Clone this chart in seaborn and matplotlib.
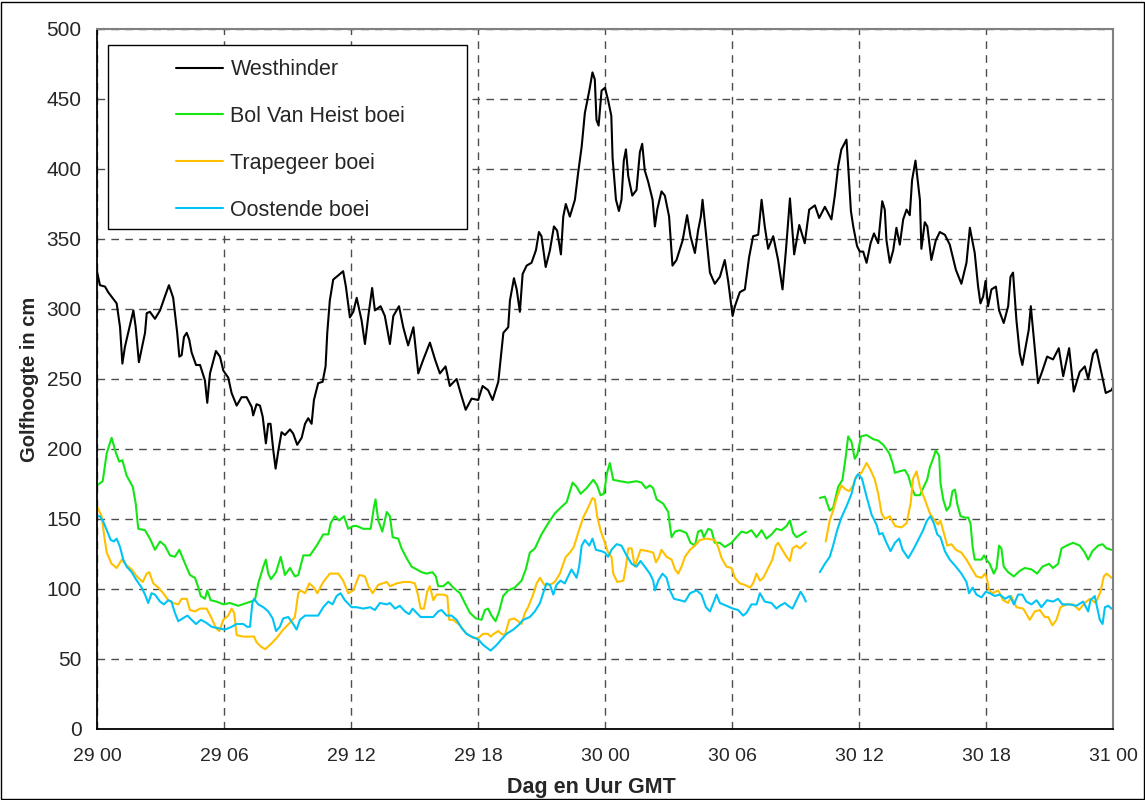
import pandas as pd
import matplotlib.pyplot as plt
from matplotlib.lines import Line2D
from matplotlib.patches import Rectangle
import seaborn as sns

# uren na 29 00 GMT en golfhoogte in cm
wh_uur = [0.0, 0.14, 0.38, 0.53, 0.93, 1.09, 1.2, 1.32, 1.72, 1.83, 1.98, 2.27, 2.35, 2.5, 2.74, 2.98,
          3.21, 3.4, 3.6, 3.79, 3.89, 4.0, 4.11, 4.24, 4.36, 4.47, 4.68, 4.87, 5.1, 5.21, 5.34, 5.62,
          5.81, 5.97, 6.2, 6.36, 6.6, 6.83, 7.07, 7.31, 7.38, 7.54, 7.7, 7.83, 7.98, 8.09, 8.2, 8.33,
          8.44, 8.57, 8.72, 8.88, 9.12, 9.27, 9.46, 9.67, 9.83, 9.98, 10.14, 10.25, 10.45, 10.66, 10.8,
          10.88, 11.0, 11.16, 11.4, 11.63, 11.76, 11.95, 12.11, 12.27, 12.5, 12.66, 12.82, 13.0, 13.13,
          13.4, 13.6, 13.84, 14.0, 14.27, 14.47, 14.7, 14.95, 15.18, 15.42, 15.73, 15.97, 16.2, 16.47,
          16.67, 16.99, 17.18, 17.42, 17.7, 18.01, 18.22, 18.48, 18.69, 18.96, 19.2, 19.43, 19.51, 19.7,
          19.83, 19.98, 20.11, 20.3, 20.53, 20.74, 20.88, 21.0, 21.2, 21.4, 21.59, 21.74, 21.92, 22.03,
          22.15, 22.34, 22.58, 22.73, 22.9, 23.05, 23.26, 23.41, 23.52, 23.6, 23.7, 23.84, 24.0, 24.15,
          24.3, 24.36, 24.52, 24.66, 24.78, 24.89, 24.99, 25.1, 25.29, 25.49, 25.65, 25.76, 25.88, 26.04,
          26.25, 26.36, 26.47, 26.67, 26.83, 27.03, 27.19, 27.38, 27.67, 27.88, 28.04, 28.25, 28.4, 28.53,
          28.61, 28.77, 28.96, 29.19, 29.43, 29.66, 29.82, 30.03, 30.14, 30.37, 30.61, 30.81, 31.0, 31.24,
          31.4, 31.55, 31.71, 31.95, 32.18, 32.39, 32.55, 32.74, 32.94, 33.18, 33.44, 33.65, 33.92, 34.12,
          34.39, 34.7, 34.86, 35.02, 35.17, 35.41, 35.5, 35.62, 35.73, 35.91, 36.04, 36.2, 36.36, 36.55,
          36.71, 36.91, 37.1, 37.22, 37.3, 37.46, 37.62, 37.77, 37.93, 38.09, 38.25, 38.4, 38.51, 38.67,
          38.88, 38.95, 39.11, 39.23, 39.42, 39.63, 39.82, 40.06, 40.29, 40.58, 40.84, 41.08, 41.24, 41.47,
          41.63, 41.74, 41.87, 41.98, 42.1, 42.26, 42.47, 42.62, 42.84, 43.05, 43.16, 43.28, 43.44, 43.6,
          43.72, 43.91, 44.02, 44.12, 44.31, 44.46, 44.67, 44.89, 45.17, 45.44, 45.65, 45.93, 46.15, 46.43,
          46.67, 46.83, 47.06, 47.22, 47.46, 47.66, 47.93, 48.0]
wh_cm = [327, 317, 316, 312, 304, 287, 261, 273, 299, 287, 262, 283, 297, 298, 293, 299,
         309, 317, 308, 283, 266, 267, 280, 283, 278, 269, 260, 260, 249, 233, 254, 270,
         266, 256, 251, 240, 231, 237, 237, 230, 224, 232, 231, 223, 204, 218, 218, 199,
         186, 199, 212, 210, 214, 211, 203, 208, 218, 222, 218, 235, 247, 248, 259,
         283, 306, 321, 324, 327, 316, 294, 298, 308, 292, 275, 295, 315, 299,
         302, 295, 275, 295, 302, 287, 274, 287, 254, 264, 276, 264, 254, 259,
         245, 250, 240, 228, 236, 235, 245, 242, 235, 248, 283, 287, 306, 322,
         314, 298, 325, 331, 333, 342, 355, 352, 330, 342, 359, 356, 339, 366,
         375, 366, 378, 397, 416, 440, 456, 469, 464, 435, 431, 456, 458, 449,
         438, 408, 378, 370, 378, 406, 414, 395, 381, 385, 412, 418, 399, 391,
         378, 359, 371, 384, 381, 366, 331, 335, 349, 367, 352, 340, 356, 366,
         378, 354, 326, 318, 323, 335, 320, 295, 302, 312, 314, 337, 352, 353,
         378, 359, 343, 352, 335, 314, 342, 379, 339, 360, 347, 371, 374, 365,
         373, 364, 381, 402, 414, 421, 400, 370, 359, 345, 341, 341, 333, 347,
         354, 347, 377, 371, 349, 333, 342, 358, 346, 364, 371, 367, 392, 406,
         378, 343, 362, 359, 335, 349, 355, 353, 346, 328, 318, 333, 358, 340,
         316, 304, 309, 320, 302, 314, 316, 299, 290, 302, 323, 326, 292, 268,
         260, 276, 285, 302, 271, 247, 256, 266, 264, 272, 252, 272, 241, 255,
         259, 250, 268, 271, 254, 240, 242, 244]

bvh_uur = [0.0, 0.27, 0.46, 0.69, 0.9, 1.05, 1.2, 1.4, 1.69, 1.83, 1.95, 2.27, 2.5, 2.74, 2.98, 3.21,
           3.45, 3.68, 3.89, 4.08, 4.39, 4.63, 4.79, 4.9, 5.1, 5.21, 5.37, 5.65, 5.97, 6.28, 6.68, 7.07,
           7.46, 7.62, 7.86, 7.98, 8.09, 8.22, 8.46, 8.68, 8.88, 9.12, 9.35, 9.51, 9.75, 10.06, 10.38,
           10.69, 10.93, 11.04, 11.24, 11.45, 11.67, 11.87, 12.11, 12.27, 12.58, 12.93, 13.08, 13.16,
           13.29, 13.48, 13.69, 13.84, 13.97, 14.23, 14.39, 14.63, 14.86, 15.1, 15.34, 15.57, 15.85,
           16.01, 16.12, 16.36, 16.59, 16.83, 17.15, 17.38, 17.62, 17.9, 18.17, 18.33, 18.48, 18.64,
           18.83, 19.0, 19.19, 19.43, 19.74, 20.06, 20.26, 20.45, 20.69, 21.0, 21.32, 21.63, 21.9, 22.19,
           22.47, 22.66, 22.85, 23.13, 23.45, 23.63, 23.79, 23.95, 24.1, 24.23, 24.39, 24.71, 25.1, 25.49,
           25.73, 25.93, 26.12, 26.28, 26.44, 26.75, 26.99, 27.07, 27.15, 27.31, 27.54, 27.85, 28.04,
           28.25, 28.4, 28.56, 28.67, 28.88, 29.03, 29.19, 29.43, 29.66, 29.98, 30.21, 30.45, 30.69,
           30.92, 31.16, 31.4, 31.63, 31.87, 32.1, 32.34, 32.58, 32.74, 32.89, 33.05, 33.28, 33.49,
           34.15, 34.39, 34.62, 34.78, 35.02, 35.22, 35.38, 35.49, 35.65, 35.8, 35.92, 36.1, 36.36,
           36.68, 36.91, 37.15, 37.43, 37.59, 37.7, 37.9, 38.17, 38.33, 38.48, 38.64, 38.88, 39.06,
           39.22, 39.35, 39.5, 39.63, 39.79, 39.85, 39.98, 40.14, 40.29, 40.42, 40.54, 40.64, 40.8,
           41.0, 41.16, 41.27, 41.37, 41.47, 41.79, 41.91, 42.02, 42.18, 42.37, 42.5, 42.62, 42.73,
           42.84, 43.05, 43.32, 43.6, 43.84, 44.15, 44.42, 44.67, 44.98, 45.17, 45.41, 45.57, 45.81,
           46.12, 46.43, 46.67, 46.83, 47.03, 47.3, 47.51, 47.7, 47.93, 48.0]
bvh_cm = [174, 177, 197, 208, 197, 191, 192, 181, 173, 161, 143, 142, 136, 128, 134, 131,
          124, 123, 128, 121, 110, 108, 101, 95, 93, 99, 92, 91, 89, 90, 88, 90,
          92, 104, 116, 121, 111, 107, 112, 123, 110, 115, 109, 110, 124, 124, 131,
          139, 139, 147, 152, 149, 152, 143, 145, 145, 143, 143, 158, 164,
          149, 141, 155, 152, 137, 136, 129, 122, 116, 114, 112, 111, 112,
          109, 102, 102, 105, 101, 97, 90, 83, 79, 78, 85, 86, 81,
          77, 84, 95, 99, 101, 106, 114, 126, 129, 139, 147, 154, 158, 162,
          176, 173, 168, 172, 178, 174, 167, 168, 183, 190, 178, 177, 176, 177,
          176, 172, 174, 172, 164, 161, 155, 145, 137, 141, 142, 140, 133,
          131, 141, 142, 137, 143, 142, 133, 133, 130, 133, 137, 141, 140,
          142, 137, 142, 136, 139, 143, 142, 145, 149, 140, 137, 139, 141,
          165, 166, 156, 158, 173, 178, 195, 209, 205, 193, 196, 209, 210,
          207, 206, 203, 197, 190, 183, 184, 185, 181, 173, 167, 167, 173,
          178, 187, 193, 199, 195, 176, 164, 156, 159, 170, 171, 161, 152,
          151, 151, 147, 130, 121, 121, 124, 121, 118, 111, 115, 131, 129,
          116, 112, 109, 113, 115, 114, 111, 116, 118, 115, 118, 129, 131,
          133, 131, 126, 121, 127, 131, 132, 129, 128, 128]

tr_uur = [0.0, 0.22, 0.35, 0.46, 0.69, 0.93, 1.17, 1.4, 1.64, 1.88, 2.16, 2.35, 2.47, 2.66, 2.9, 3.13,
          3.37, 3.6, 3.84, 4.0, 4.24, 4.39, 4.63, 4.87, 5.18, 5.42, 5.62, 5.78, 5.97, 6.2, 6.36, 6.48,
          6.6, 6.91, 7.23, 7.42, 7.54, 7.73, 7.94, 8.17, 8.49, 8.8, 9.12, 9.35, 9.51, 9.62, 9.83, 10.03,
          10.25, 10.41, 10.69, 11.0, 11.4, 11.63, 11.87, 12.11, 12.39, 12.66, 12.82, 13.02, 13.29, 13.69,
          13.84, 14.16, 14.47, 14.79, 15.02, 15.18, 15.29, 15.45, 15.6, 15.73, 15.89, 16.05, 16.36,
          16.55, 16.64, 16.83, 17.15, 17.46, 17.78, 18.01, 18.25, 18.48, 18.6, 18.75, 18.96, 19.11,
          19.27, 19.48, 19.7, 19.9, 20.06, 20.22, 20.37, 20.58, 20.77, 20.93, 21.13, 21.4, 21.63, 21.87,
          22.03, 22.15, 22.34, 22.53, 22.73, 22.97, 23.2, 23.41, 23.52, 23.63, 23.79, 23.95, 24.15,
          24.31, 24.39, 24.58, 24.87, 24.99, 25.1, 25.26, 25.41, 25.57, 25.68, 26.04, 26.28, 26.41,
          26.56, 26.67, 26.91, 27.15, 27.31, 27.46, 27.62, 27.78, 28.02, 28.25, 28.49, 28.8, 29.19,
          29.35, 29.51, 29.74, 29.98, 30.14, 30.37, 30.61, 30.85, 31.0, 31.16, 31.32, 31.48, 31.71,
          31.91, 32.07, 32.18, 32.34, 32.58, 32.74, 32.86, 33.05, 33.21, 33.49,
          34.43, 34.62, 34.78, 34.97, 35.17, 35.38, 35.54, 35.73, 35.85, 36.12, 36.36, 36.55, 36.75,
          36.91, 37.07, 37.22, 37.46, 37.7, 38.01, 38.25, 38.44, 38.56, 38.72, 38.88, 39.11, 39.35,
          39.58, 39.74, 39.85, 40.01, 40.17, 40.37, 40.58, 40.84, 41.08, 41.31, 41.55, 41.79, 41.95,
          42.05, 42.15, 42.31, 42.58, 42.81, 43.05, 43.2, 43.44, 43.76, 44.07, 44.31, 44.54, 44.78,
          44.94, 45.14, 45.33, 45.52, 45.81, 46.12, 46.4, 46.67, 46.91, 47.19, 47.41, 47.57, 47.7,
          47.93, 48.0]
tr_cm = [159, 152, 137, 126, 118, 115, 121, 117, 114, 109, 105, 111, 112, 104, 101, 97,
         92, 90, 89, 93, 93, 85, 84, 86, 86, 79, 72, 70, 78, 81, 86, 83,
         67, 66, 66, 66, 62, 59, 57, 60, 65, 71, 76, 80, 97, 99, 97, 104,
         101, 97, 105, 111, 111, 106, 97, 99, 110, 109, 102, 97, 103, 105,
         102, 104, 105, 105, 104, 95, 86, 86, 98, 102, 92, 96, 96,
         95, 78, 78, 74, 68, 65, 65, 68, 68, 66, 68, 70, 68,
         67, 78, 79, 77, 75, 83, 87, 95, 104, 108, 103, 103, 105, 111,
         118, 123, 126, 130, 140, 151, 158, 165, 164, 152, 142, 135, 126,
         123, 111, 105, 106, 116, 129, 129, 116, 123, 128, 127, 126, 119,
         123, 128, 123, 121, 114, 111, 116, 123, 128, 131, 135, 136, 135,
         130, 122, 116, 115, 108, 104, 103, 101, 104, 111, 106, 108, 115,
         121, 131, 133, 129, 123, 120, 129, 131, 129, 133,
         134, 149, 156, 166, 174, 171, 170, 174, 180, 183, 190, 185, 178,
         168, 154, 150, 152, 145, 144, 147, 161, 179, 184, 173, 164, 154,
         149, 146, 149, 140, 131, 132, 128, 126, 121, 115, 109, 108, 111,
         107, 99, 97, 99, 92, 90, 95, 87, 86, 78, 84, 85, 80,
         80, 74, 78, 87, 89, 89, 85, 90, 93, 90, 98, 109, 111,
         108, 108]

oo_uur = [0.0, 0.14, 0.3, 0.46, 0.65, 0.8, 0.93, 1.09, 1.24, 1.4, 1.64, 1.88, 2.11, 2.27, 2.42, 2.58,
          2.74, 2.98, 3.16, 3.37, 3.52, 3.68, 3.84, 4.05, 4.27, 4.47, 4.68, 4.91, 5.15, 5.42, 5.73, 6.05,
          6.36, 6.6, 6.91, 7.1, 7.23, 7.34, 7.42, 7.62, 7.86, 8.09, 8.3, 8.46, 8.64, 8.8, 9.04, 9.27,
          9.43, 9.59, 9.83, 10.14, 10.45, 10.69, 10.93, 11.13, 11.32, 11.51, 11.71, 12.03, 12.27, 12.58,
          12.9, 13.13, 13.37, 13.69, 13.84, 14.08, 14.31, 14.55, 14.75, 14.91, 15.1, 15.29, 15.57, 15.89,
          16.12, 16.28, 16.52, 16.75, 16.99, 17.23, 17.46, 17.7, 18.01, 18.25, 18.6, 18.88, 19.11, 19.35,
          19.67, 19.9, 20.14, 20.45, 20.69, 20.93, 21.08, 21.24, 21.4, 21.56, 21.71, 21.9, 22.1, 22.26,
          22.42, 22.66, 22.78, 22.9, 23.05, 23.26, 23.41, 23.57, 23.84, 24.0, 24.15, 24.31, 24.55, 24.78,
          25.02, 25.26, 25.49, 25.68, 25.88, 26.12, 26.28, 26.36, 26.52, 26.72, 26.91, 27.07, 27.26,
          27.54, 27.78, 28.02, 28.33, 28.56, 28.77, 28.96, 29.15, 29.27, 29.43, 29.74, 30.05, 30.29,
          30.53, 30.69, 30.92, 31.16, 31.32, 31.55, 31.87, 32.1, 32.26, 32.5, 32.66, 32.86, 33.05,
          33.24, 33.37, 33.49,
          34.15, 34.39, 34.62, 34.78, 34.97, 35.17, 35.41, 35.65, 35.81, 35.95, 36.14, 36.36, 36.6,
          36.83, 36.96, 37.11, 37.27, 37.49, 37.7, 37.9, 38.06, 38.33, 38.56, 38.8, 39.03, 39.22, 39.38,
          39.54, 39.7, 39.85, 40.06, 40.29, 40.58, 40.84, 41.08, 41.2, 41.37, 41.55, 41.79, 41.99, 42.18,
          42.42, 42.66, 42.9, 43.13, 43.32, 43.52, 43.72, 43.91, 44.15, 44.39, 44.62, 44.89, 45.17,
          45.41, 45.61, 45.95, 46.27, 46.59, 46.83, 46.94, 47.14, 47.25, 47.38, 47.51, 47.62, 47.78,
          47.93, 48.0]
oo_cm = [152, 152, 148, 142, 135, 134, 136, 130, 121, 116, 112, 106, 101, 96, 90, 97,
         96, 91, 89, 92, 91, 83, 77, 79, 81, 78, 75, 78, 76, 73, 72, 71,
         73, 75, 75, 73, 73, 90, 93, 89, 87, 84, 79, 70, 73, 79, 80, 75,
         71, 78, 81, 81, 81, 87, 91, 89, 95, 97, 92, 87, 87, 86,
         87, 85, 90, 89, 90, 86, 88, 84, 82, 86, 83, 80, 80, 80,
         84, 85, 81, 81, 78, 72, 68, 66, 64, 60, 56, 60, 64, 68,
         71, 74, 78, 80, 84, 90, 97, 104, 103, 96, 103, 106, 104, 109,
         114, 108, 116, 131, 135, 131, 136, 128, 127, 126, 123, 128, 132, 131,
         124, 118, 116, 120, 116, 111, 106, 99, 106, 111, 108, 99, 93,
         92, 91, 97, 99, 96, 87, 84, 91, 96, 90, 88, 86, 85,
         81, 83, 89, 89, 97, 91, 90, 86, 88, 90, 88, 86, 92,
         98, 95, 91,
         112, 118, 123, 131, 142, 151, 159, 168, 178, 182, 179, 166, 153,
         146, 139, 140, 134, 127, 133, 136, 128, 122, 128, 135, 142, 149, 152,
         147, 139, 137, 127, 121, 116, 111, 105, 97, 101, 96, 94, 98, 97,
         95, 96, 93, 95, 89, 96, 96, 91, 89, 92, 87, 92, 91,
         93, 89, 89, 88, 91, 84, 92, 95, 87, 78, 75, 87, 88,
         86, 86]

stations = ["Westhinder", "Bol Van Heist boei", "Trapegeer boei", "Oostende boei"]
kleuren = ["#000000", "#14E614", "#FFC000", "#00C4F5"]
x_ticks = [0, 6, 12, 18, 24, 30, 36, 42, 48]
x_labels = ["29 00", "29 06", "29 12", "29 18", "30 00", "30 06", "30 12", "30 18", "31 00"]
y_ticks = [0, 50, 100, 150, 200, 250, 300, 350, 400, 450, 500]

# alles in een lange tabel; boeien hebben een gat in de data rond 30 10
frames = []
for naam, uur, cm in zip(stations, [wh_uur, bvh_uur, tr_uur, oo_uur], [wh_cm, bvh_cm, tr_cm, oo_cm]):
    d = pd.DataFrame({"uur": uur, "cm": cm})
    d["station"] = naam
    d["deel"] = 0 if naam == "Westhinder" else (d["uur"] > 33.8).astype(int)
    frames.append(d)
df = pd.concat(frames, ignore_index=True)

sns.set_style("white")
plt.rcParams["font.family"] = ["Liberation Sans", "DejaVu Sans"]

fig = plt.figure(figsize=(11.45, 8), dpi=100)
ax = fig.add_axes([0.0847, 0.08875, 0.8873, 0.875])

sns.lineplot(data=df, x="uur", y="cm", hue="station", hue_order=stations, units="deel",
             estimator=None, palette=kleuren, linewidth=1.5, legend=False, ax=ax)

ax.set_xlim(0, 48)
ax.set_ylim(0, 500)
ax.set_xticks(x_ticks, x_labels, fontsize=14)
ax.set_yticks(y_ticks, [str(v) for v in y_ticks], fontsize=15)
ax.grid(True, linestyle=(0, (5.5, 4.5)), color="#4d4d4d", linewidth=1.0)
ax.tick_params(direction="out", length=6, width=1, color="black", pad=5)
ax.tick_params(axis="x", pad=8)

for s in ["left", "bottom"]:
    ax.spines[s].set_color("black")
    ax.spines[s].set_linewidth(1.3)
for s in ["top", "right"]:
    ax.spines[s].set_color("#808080")
    ax.spines[s].set_linewidth(1.5)

ax.set_xlabel("Dag en Uur GMT", fontsize=15.5, fontweight="bold")
ax.set_ylabel("Golfhoogte in cm", fontsize=14.5, fontweight="bold")
ax.xaxis.label.set_va("center")
ax.yaxis.label.set_va("center")
ax.xaxis.set_label_coords(0.487, -0.084)
ax.yaxis.set_label_coords(-0.066, 0.5)

# legenda met witte kader zoals in Excel
ax.add_patch(Rectangle((0.0108, 0.714), 0.353, 0.263, transform=ax.transAxes,
                       facecolor="white", edgecolor="black", linewidth=1, zorder=4))
handles = [Line2D([], [], color=c, linewidth=1.5) for c in kleuren]
leg = ax.legend(handles, stations, loc="upper left", bbox_to_anchor=(0.0778, 0.957),
                frameon=False, borderpad=0, borderaxespad=0, handlelength=2.2,
                handletextpad=0.33, labelspacing=1.2, fontsize=15.5)
leg.set_zorder(5)

fig.add_artist(Rectangle((0.001, 0.001), 0.998, 0.997, transform=fig.transFigure,
                         fill=False, edgecolor="black", linewidth=1))

fig.savefig("out.png", dpi=100)
